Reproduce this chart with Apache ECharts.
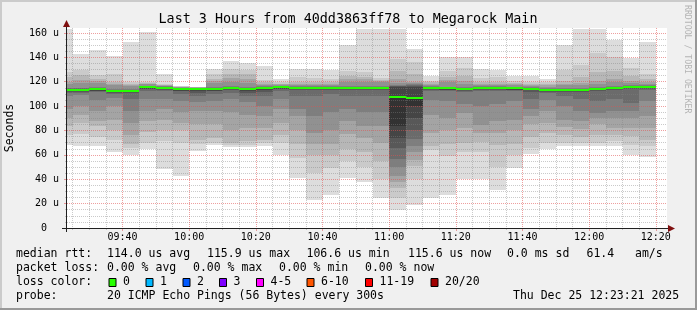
<!DOCTYPE html>
<html><head><meta charset="utf-8">
<script src="https://cdn.jsdelivr.net/npm/echarts@6/dist/echarts.min.js"></script>
<style>html,body{margin:0;padding:0;background:#f0f0f0}#c{width:697px;height:310px}</style>
</head><body><div id="c"></div>
<script>
// ---- data ----
const timeLabels = ['09:25','09:30','09:35','09:40','09:45','09:50','09:55','10:00','10:05','10:10','10:15','10:20',
 '10:25','10:30','10:35','10:40','10:45','10:50','10:55','11:00','11:05','11:10','11:15','11:20',
 '11:25','11:30','11:35','11:40','11:45','11:50','11:55','12:00','12:05','12:10','12:15','12:20'];
// 20 sorted ping RTTs (microseconds) per 5-minute step
const pings = [
 [68,76,84,90,98,108,111,111.9,112.5,113.1,113.5,113.8,114.1,114.5,115.1,118.5,120,124,128,163],
 [67,77,86,93,100,109,111,111.9,112.5,113.1,113.5,113.8,114.1,114.5,115.1,119,121.7,125.8,129.8,143],
 [67,75,84,88,96,105,111.3,112.2,112.8,113.4,113.8,114.1,114.4,114.8,115.4,119,121,122.5,125.8,145.7],
 [62,72,80,89,100,107,110,110.9,111.5,112.1,112.5,112.8,113.1,113.5,114.1,117.5,118.5,119.5,126.6,141],
 [60,66,68.6,76,86,96,106,110.9,111.5,112.1,112.5,112.8,113.1,113.5,114.1,116.5,117,118,120,153],
 [64.8,70,78.7,88,96,106,112.8,113.7,114.3,114.9,115.3,115.6,115.9,116.3,116.9,118,118.5,119,120,160.8],
 [48.4,71,80,89,98,106,112.3,113.2,113.8,114.4,114.8,115.1,115.4,115.8,116.2,116.6,117,117.5,118.4,126.6],
 [42.4,69.7,80,86,95,104,110,112.2,112.8,113.4,113.8,114.1,114.4,114.8,115.2,115.5,115.8,116.1,116.4,116.8],
 [63.4,69,72.4,85,96,103,108,111,112.5,113.4,113.8,114.1,114.4,114.7,115,115.2,115.4,115.5,115.6,115.8],
 [68.3,70,73.8,85,96,104,110,112.2,112.8,113.4,113.8,114.1,114.4,114.8,115.4,119,121,122.5,126.6,130.7],
 [66.5,68,70,80,95,106,111,113.2,113.8,114.4,114.8,115.1,115.4,115.8,116.4,120,123,126.6,130.3,136.7],
 [66.5,68,71,82,93,103,108,111,112.5,113.4,113.8,114.1,114.4,114.8,115.4,119,122,126,130,135.3],
 [67,69.7,72,82,92,100,108,111.5,113.5,114.4,114.8,115.1,115.4,115.8,116.4,117.5,118.5,120,121.6,132.6],
 [60.2,69.7,76,86,98,106,112.8,113.7,114.3,114.9,115.3,115.6,115.9,116.3,116.9,117.5,118,118.5,119.5,122],
 [41.2,57.6,69,80,92,98,108,113.2,113.8,114.4,114.8,115.1,115.4,115.8,116.4,117.5,118.5,120,123.8,130.4],
 [23.1,45,60,68.6,78,92,108,113.2,113.8,114.4,114.8,115.1,115.4,115.8,116.4,117.5,118.5,120,123,130.4],
 [27.2,49.2,60,68.6,80,95,110,113.2,113.8,114.4,114.8,115.1,115.4,115.8,116.4,117.5,118.5,120,122,129.3],
 [41.2,55,64.5,77,88,98,108,113.2,113.8,114.4,114.8,115.1,115.4,115.8,116.4,120,122,125,128.5,150.4],
 [37.6,50,62,74,84,95,108,113.2,113.8,114.4,114.8,115.1,115.4,115.8,116.4,120,122,124,128,163.5],
 [24.6,40,55,69.7,84,95,108,113.2,113.8,114.4,114.8,115.1,115.4,115.8,116.4,119.5,120.5,121.5,123,163.5],
 [14.4,25,33,38,42.7,50,57,66,74,83.6,107.2,115.5,116.2,116.8,117.5,119,122,128.5,138.7,163.5],
 [18.6,40,50.9,56,62,67,72.7,80,90,100,106.6,115.7,116.5,117.2,118,119,120,126,136,146.5],
 [24.6,64,67,78,93,105,112.3,113.2,113.8,114.4,114.8,115.1,115.4,115.8,116.4,117.5,118.5,119.5,120.5,124.5],
 [26.8,59,68.6,80,90.5,104,112,112.9,113.5,114.1,114.5,114.8,115.1,115.5,116.1,119.5,121.5,123.8,128.5,140.3],
 [40.5,62,70,82,94,102,111.5,112.4,113,113.6,114,114.3,114.6,115,115.6,118.5,120.5,125,131.3,140.3],
 [40.5,62,70.5,78,84.5,100,112.3,113.2,113.8,114.4,114.8,115.1,115.4,115.8,116.4,117.5,118.5,120,123,130.7],
 [31.2,50,67.8,78,87.7,102,112.3,113.2,113.8,114.4,114.8,115.1,115.4,115.8,116.4,117.5,118.5,120,123.5,129.8],
 [49.5,60,68.6,80,88.6,104,112,112.9,113.5,114.1,114.5,114.8,115.1,115.5,116.1,117,118,119,120.5,125],
 [61,66,74.6,85,92,97.3,106,111.5,113,113.6,114,114.3,114.6,115,115.6,116.5,117.3,118.5,120,124.4],
 [65,70,78,86.4,96,105,110.9,111.8,112.4,113,113.4,113.7,114,114.4,115,116,117,118,119.5,122.5],
 [67,70,76,83,89,100,108,111.8,112.4,113,113.4,113.7,114,114.4,115,117,118.5,121,129.8,150.4],
 [67,70,75,81,88,96,106,111.8,112.4,113,113.4,113.7,114,114.4,115,117.5,119,124,134,163.5],
 [67,70,76,85,90,94.6,104,112.4,113,113.6,114,114.3,114.6,115,115.6,118.5,121,128,143.6,163.5],
 [67,71.3,76,82,90,96,106,113.2,113.8,114.4,114.8,115.1,115.4,115.8,116.4,119.5,122,128.7,140,154.5],
 [59.6,68,75.4,82,90,96,102.8,114.3,114.9,115.5,115.9,116.2,116.5,116.9,117.5,119,121,125,131,139.7],
 [58.5,67,72,82,92,104,113.1,114,114.6,115.2,115.6,115.9,116.2,116.6,117.2,118.3,119.5,122,126,152.5]
];
const medians = [113.5,113.5,113.8,112.5,112.5,115.3,114.8,113.8,113.8,113.8,114.8,113.8,114.8,115.3,114.8,114.8,114.8,114.8,
 114.8,114.8,107.2,106.6,114.8,114.5,114,114.8,114.8,114.5,114,113.4,113.4,113.4,114,114.8,115.9,115.6];
const startTime = '09:23:21', endTime = '12:23:21';
const xMajorTicks = ['09:40','10:00','10:20','10:40','11:00','11:20','11:40','12:00','12:20'];
const xMinorTicks = ['09:25','09:30','09:35','09:45','09:50','09:55','10:05','10:10','10:15','10:25','10:30','10:35',
 '10:45','10:50','10:55','11:05','11:10','11:15','11:25','11:30','11:35','11:45','11:50','11:55','12:05','12:10','12:15'];
const yMajorTicks = [0,20,40,60,80,100,120,140,160];
const yMinorTicks = [5,10,15,25,30,35,45,50,55,65,70,75,85,90,95,105,110,115,125,130,135,145,150,155];
const yMax = 164.1;
const titleText = 'Last 3 Hours from 40dd3863ff78 to Megarock Main';
const yAxisName = 'Seconds';
const watermark = 'RRDTOOL / TOBI OETIKER';
const legendRows = [
 {y:254.3, items:[[16,'median rtt:'],[107,'114.0 us avg'],[207,'115.9 us max'],[306.5,'106.6 us min'],[408,'115.6 us now'],[507,'0.0 ms sd'],[586.5,'61.4'],[635,'am/s']]},
 {y:268.1, items:[[16,'packet loss:'],[107,'0.00 % avg'],[193,'0.00 % max'],[279,'0.00 % min'],[365,'0.00 % now']]},
 {y:281.9, items:[[16,'loss color:']]},
 {y:295.8, items:[[16,'probe:'],[107,'20 ICMP Echo Pings (56 Bytes) every 300s'],[513,'Thu Dec 25 12:23:21 2025']]}
];
const lossLabels = ['0','1','2','3','4-5','6-10','11-19','20/20'];
const lossColors = ['#26ff00','#00b8ff','#0059ff','#7e00ff','#ff00ff','#ff5500','#ff0000','#a10000'];
const lossX = [108.5,145.5,182.5,219,256,306.5,365,430.5];

// ---- helpers ----
function toMin(s){const p=s.split(':').map(Number);return p[0]*60+p[1]+(p[2]||0)/60;}
function fmt(v){const h=Math.floor(v/60+1e-9),m=Math.round(v-h*60);return String(h).padStart(2,'0')+':'+String(m).padStart(2,'0');}
const xMin = toMin(startTime), xMax = toMin(endTime);
const MONO = 'DejaVu Sans Mono';
const gridCol = 'rgba(128,128,128,0.42)';
const mgridCol = 'rgba(224,80,80,0.55)';

const smokeData = timeLabels.map((t,i)=>[toMin(t)].concat(pings[i]));
const medData = timeLabels.map((t,i)=>[toMin(t), medians[i]]);

function renderSmoke(params, api){
  const t = api.value(0);
  const x0 = Math.max(t-5, xMin);
  const xa = Math.round(api.coord([x0,0])[0]);
  const xb = Math.round(api.coord([t,0])[0]);
  const children = [];
  for (let k=0;k<19;k++){
    const lo = api.value(k+1), hi = api.value(k+2);
    const ya = Math.round(api.coord([t,lo])[1]);
    const yb = Math.round(api.coord([t,hi])[1]);
    if (ya<=yb) continue;
    const d = Math.min(k,18-k)+1;
    const c = Math.floor(190/10*(10-d))+50;
    children.push({type:'rect', shape:{x:xa,y:yb,width:xb-xa,height:ya-yb}, style:{fill:'rgb('+c+','+c+','+c+')'}});
  }
  return {type:'group', children};
}
function renderMedian(params, api){
  const t = api.value(0);
  const x0 = Math.max(t-5, xMin);
  const xa = Math.round(api.coord([x0,0])[0]);
  const xb = Math.round(api.coord([t,0])[0]);
  const y = Math.round(api.coord([t, api.value(1)])[1]);
  return {type:'rect', shape:{x:xa, y:y-1, width:xb-xa, height:2}, style:{fill:lossColors[0]}};
}

const chart = echarts.init(document.getElementById('c'), null, {renderer:'canvas'});
const GL=67, GT=28, GR=667, GB=228;
const axisBase = {type:'value', min:xMin, max:xMax, position:'bottom', z:3, axisLine:{show:false}};
const graphics = [];
// frame
graphics.push({type:'rect', shape:{x:0,y:0,width:697,height:2}, style:{fill:'#cbcbcb'}, z:100});
graphics.push({type:'rect', shape:{x:0,y:0,width:2,height:310}, style:{fill:'#cbcbcb'}, z:100});
graphics.push({type:'rect', shape:{x:0,y:308,width:697,height:2}, style:{fill:'#999999'}, z:100});
graphics.push({type:'rect', shape:{x:695,y:0,width:2,height:310}, style:{fill:'#999999'}, z:100});
// axes lines + arrows
graphics.push({type:'line', shape:{x1:GL-5,y1:GB+0.5,x2:GR+2,y2:GB+0.5}, style:{stroke:'#202020',lineWidth:1}, z:50});
graphics.push({type:'line', shape:{x1:GL-0.5,y1:GB+4,x2:GL-0.5,y2:GT-2}, style:{stroke:'#202020',lineWidth:1}, z:50});
graphics.push({type:'polygon', shape:{points:[[GR+1,GB-3],[GR+8,GB+0.5],[GR+1,GB+4]]}, style:{fill:'#801010'}, z:51});
graphics.push({type:'polygon', shape:{points:[[GL-4,GT-1],[GL-0.5,GT-8],[GL+3,GT-1]]}, style:{fill:'#801010'}, z:51});
// title
graphics.push({type:'text', x:348, y:19.5, style:{text:titleText, font:'13.4px '+MONO, fill:'#000', align:'center', verticalAlign:'middle'}, z:60});
// y axis name
graphics.push({type:'text', x:10.5, y:128, rotation:Math.PI/2, style:{text:yAxisName, font:'11.5px '+MONO, fill:'#000', align:'center', verticalAlign:'middle'}, z:60});
// watermark
graphics.push({type:'text', x:687.5, y:5, rotation:-Math.PI/2, style:{text:watermark, font:'8.2px '+MONO, fill:'#b4b4b4', align:'left', verticalAlign:'middle'}, z:60});
// legend rows
legendRows.forEach(r=>r.items.forEach(it=>{
  graphics.push({type:'text', x:it[0], y:r.y, style:{text:it[1], font:'11.5px '+MONO, fill:'#000', align:'left', verticalAlign:'middle'}, z:60});
}));
lossLabels.forEach((lab,i)=>{
  graphics.push({type:'rect', shape:{x:lossX[i]+0.5,y:278.5,width:7,height:8}, style:{fill:lossColors[i], stroke:'#000', lineWidth:1}, z:60});
  graphics.push({type:'text', x:lossX[i]+14.5, y:281.9, style:{text:lab, font:'11.5px '+MONO, fill:'#000', align:'left', verticalAlign:'middle'}, z:60});
});

chart.setOption({
  animation:false,
  backgroundColor:'#f0f0f0',
  grid:{left:GL, right:697-GR, top:GT, bottom:310-GB, show:true, backgroundColor:'#ffffff', borderWidth:0},
  xAxis:[
    Object.assign({}, axisBase, {
      axisLabel:{show:false},
      axisTick:{show:true, customValues:xMinorTicks.map(toMin), length:2, lineStyle:{color:gridCol}},
      splitLine:{show:true, lineStyle:{color:gridCol, width:1, type:[1,1]}}
    }),
    Object.assign({}, axisBase, {
      axisLabel:{show:true, customValues:xMajorTicks.map(toMin), formatter:fmt, fontFamily:MONO, fontSize:10, color:'#000', margin:4},
      axisTick:{show:true, customValues:xMajorTicks.map(toMin), length:3, lineStyle:{color:mgridCol}},
      splitLine:{show:true, lineStyle:{color:mgridCol, width:1, type:[1,1]}}
    })
  ],
  yAxis:[
    {type:'value', min:0, max:yMax, position:'left', z:3, axisLine:{show:false},
     axisLabel:{show:false},
     axisTick:{show:true, customValues:yMinorTicks, length:2, lineStyle:{color:gridCol}},
     splitLine:{show:true, lineStyle:{color:gridCol, width:1, type:[1,1]}}},
    {type:'value', min:0, max:yMax, position:'left', z:3, axisLine:{show:false},
     axisLabel:{show:true, customValues:yMajorTicks, formatter:v=> v===0 ? '0  ' : v+' u', fontFamily:MONO, fontSize:10, color:'#000', margin:8},
     axisTick:{show:true, customValues:yMajorTicks, length:3, lineStyle:{color:mgridCol}},
     splitLine:{show:true, lineStyle:{color:mgridCol, width:1, type:[1,1]}}}
  ],
  series:[
    {type:'custom', name:'smoke', xAxisIndex:0, yAxisIndex:0, z:1, renderItem:renderSmoke, data:smokeData,
     encode:{x:0, y:[1,20]}, silent:true},
    {type:'custom', name:'median', xAxisIndex:0, yAxisIndex:0, z:10, renderItem:renderMedian, data:medData,
     encode:{x:0, y:1}, silent:true}
  ],
  graphic:graphics
});
</script></body></html>
